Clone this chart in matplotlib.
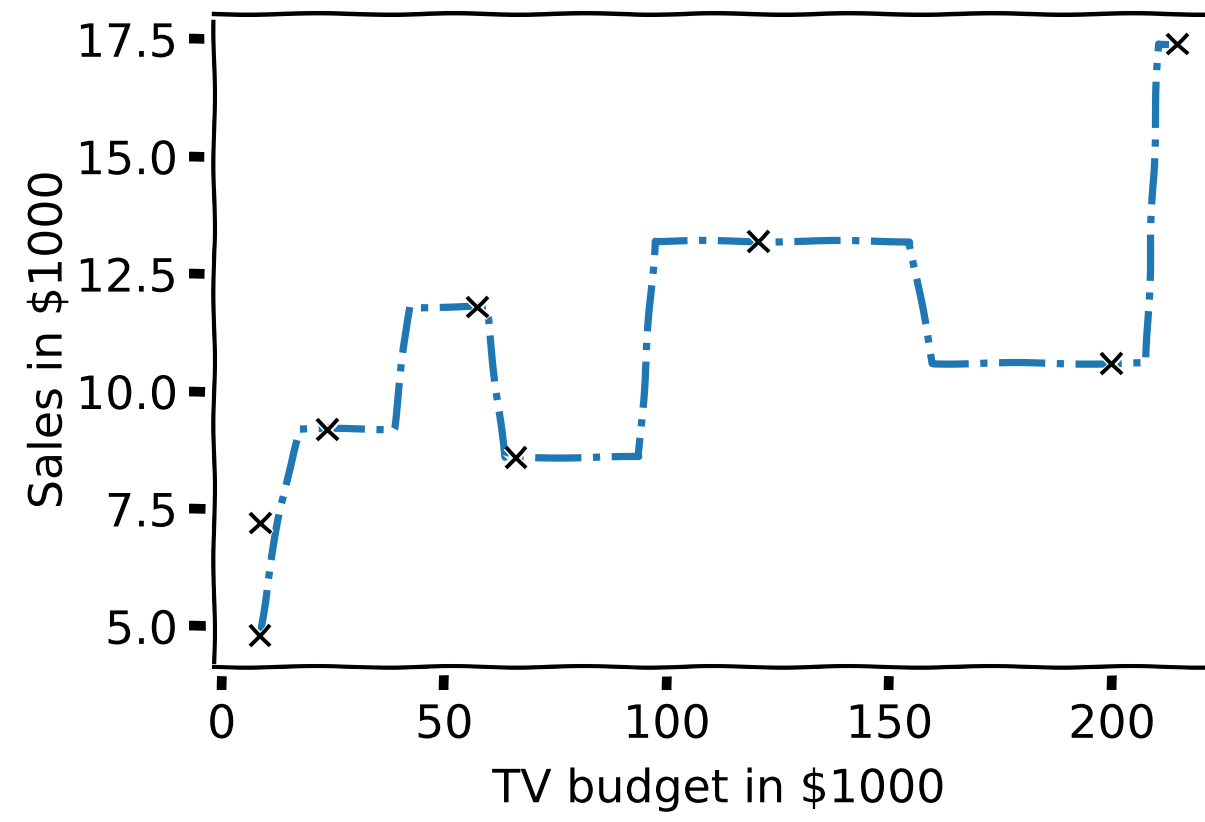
import matplotlib
matplotlib.use("Agg")
import matplotlib.pyplot as plt
from matplotlib import patheffects

# TV budget vs sales
tv = [8.6, 8.7, 23.8, 57.5, 66.1, 120.5, 199.8, 214.7]
sales = [4.8, 7.2, 9.2, 11.8, 8.6, 13.2, 10.6, 17.4]

# fitted (stepwise) prediction line, vertices
fit_x = [8.6, 10.4, 13.2, 16.0, 17.5, 38.7, 42.1, 59.5, 63.5, 93.7, 97.3,
         154.5, 159.7, 207.7, 210.4, 212.8]
fit_y = [4.8, 6.0, 7.5, 8.7, 9.2, 9.2, 11.8, 11.8, 8.6, 8.6, 13.2,
         13.2, 10.6, 10.6, 17.4, 17.4]

plt.xkcd(scale=0.8, length=150, randomness=2)
plt.rcParams['font.family'] = ['DejaVu Sans']
plt.rcParams['font.size'] = 33
plt.rcParams['path.effects'] = [patheffects.withStroke(linewidth=5, foreground='w')]
plt.rcParams['axes.linewidth'] = 3.2
plt.rcParams['xtick.major.size'] = 13.5
plt.rcParams['ytick.major.size'] = 13.5
plt.rcParams['xtick.major.width'] = 7
plt.rcParams['ytick.major.width'] = 7
plt.rcParams['xtick.major.pad'] = 9
plt.rcParams['ytick.major.pad'] = 8

fig = plt.figure(figsize=(12.05, 8.22), dpi=100)
ax = fig.add_axes([0.1777, 0.1906, 0.8375, 0.7919])

ax.plot(fit_x, fit_y, '-.', color='#1f77b4', lw=5.2)
ax.plot(tv, sales, 'x', color='k', ms=15, mew=2.8)

ax.set_xlim(-1.7, 225)
ax.set_ylim(4.17, 18.03)
ax.set_xticks([0, 50, 100, 150, 200])
ax.set_yticks([5.0, 7.5, 10.0, 12.5, 15.0, 17.5])

# ticks sit a little away from the frame: shift the tick spines out and
# draw the frame lines at the axes edge instead
for side in ['left', 'bottom']:
    ax.spines[side].set_position(('outward', 4.5))
    ax.spines[side].set_color('none')
ax.plot([0, 0], [0, 0.988], color='k', lw=3.2, transform=ax.transAxes,
        clip_on=False)
ax.plot([-0.003, 1], [-0.003, -0.003], color='k', lw=3.2,
        transform=ax.transAxes, clip_on=False)

ax.set_xlabel('TV budget in $1000', labelpad=14)
ax.set_ylabel('Sales in $1000', labelpad=3)

fig.savefig('out.png', dpi=100)
